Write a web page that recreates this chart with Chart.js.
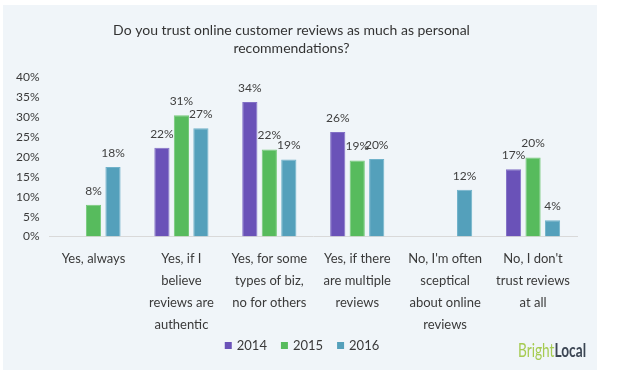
<!DOCTYPE html>
<html>
<head>
<meta charset="utf-8">
<script src="https://cdn.jsdelivr.net/npm/chart.js@4.4.1/dist/chart.umd.min.js"></script>
<style>
  body { margin: 0; background: #fff; }
  #panel { position: absolute; left: 3px; top: 5px; width: 594px; height: 365px; background: #f0f5f9; }
</style>
</head>
<body>
<div id="panel"><canvas id="chart" width="594" height="365"></canvas></div>
<script>
const categories = [
    ["Yes, always"],
    ["Yes, if I", "believe", "reviews are", "authentic"],
    ["Yes, for some", "types of biz,", "no for others"],
    ["Yes, if there", "are multiple", "reviews"],
    ["No, I'm often", "sceptical", "about online", "reviews"],
    ["No, I don't", "trust reviews", "at all"]
];
const values2014 = [null, 22.3, 33.8, 26.3, null, 16.9];
const values2015 = [8, 30.5, 21.9, 19.1, null, 19.9];
const values2016 = [17.5, 27.2, 19.4, 19.5, 11.8, 4.1];
const yearLabels = ["2014", "2015", "2016"];
const yTicks = [0, 5, 10, 15, 20, 25, 30, 35, 40];

const fontName = "'Lato', sans-serif";
Chart.defaults.font.family = fontName;
Chart.defaults.color = "#3a3a3a";

// draws the % above each bar
const barLabels = {
    id: "barLabels",
    afterDatasetsDraw(chart) {
        const ctx = chart.ctx;
        ctx.save();
        ctx.font = "12px " + fontName;
        ctx.fillStyle = "#404040";
        ctx.textAlign = "center";
        ctx.textBaseline = "bottom";
        chart.data.datasets.forEach((ds, i) => {
            chart.getDatasetMeta(i).data.forEach((bar, j) => {
                if (ds.data[j] == null) return;
                ctx.fillText(Math.round(ds.data[j]) + "%", bar.x, bar.y - 8);
            });
        });
        ctx.restore();
    }
};

// legend drawn by hand so it can sit close under the long x labels
const bottomLegend = {
    id: "bottomLegend",
    afterDraw(chart) {
        const ctx = chart.ctx;
        const y = 341;
        ctx.save();
        ctx.font = "13px " + fontName;
        ctx.textBaseline = "middle";
        const items = chart.data.datasets.map(ds => ({ text: ds.label, color: ds.backgroundColor, w: ctx.measureText(ds.label).width }));
        const total = items.reduce((s, it) => s + 7 + 5 + it.w, 0) + 14 * (items.length - 1);
        let x = chart.width / 2 - total / 2 + 2;
        items.forEach(it => {
            ctx.fillStyle = it.color;
            ctx.fillRect(x, y - 4, 7, 7);
            ctx.fillStyle = "#3a3a3a";
            ctx.fillText(it.text, x + 12, y);
            x += 7 + 5 + it.w + 14;
        });
        ctx.restore();
    }
};

// BrightLocal mark, condensed by scaling x
const logo = {
    id: "logo",
    afterDraw(chart) {
        const ctx = chart.ctx;
        ctx.save();
        ctx.font = "19px " + fontName;
        ctx.textBaseline = "alphabetic";
        ctx.translate(515, 352);
        ctx.scale(0.72, 1);
        ctx.fillStyle = "#a6cb52";
        ctx.fillText("Bright", 0, 0);
        const w = ctx.measureText("Bright").width;
        ctx.fillStyle = "#3b4553";
        ctx.font = "bold 19px " + fontName;
        ctx.fillText("Local", w, 0);
        ctx.restore();
    }
};

new Chart(document.getElementById("chart"), {
    type: "bar",
    data: {
        labels: categories,
        datasets: [
            { label: yearLabels[0], data: values2014, backgroundColor: "#6a52b8", borderColor: "#8270c6", borderWidth: 1 },
            { label: yearLabels[1], data: values2015, backgroundColor: "#57bb5d", borderColor: "#75c97a", borderWidth: 1 },
            { label: yearLabels[2], data: values2016, backgroundColor: "#54a0bb", borderColor: "#70b2ca", borderWidth: 1 }
        ]
    },
    options: {
        responsive: false,
        animation: false,
        layout: { padding: { left: 3, right: 20, top: 0, bottom: 23 } },
        datasets: { bar: { barPercentage: 0.78, categoryPercentage: 0.665 } },
        scales: {
            x: {
                grid: { display: false, drawTicks: false },
                border: { color: "#d9d9d9" },
                ticks: { font: { size: 13, lineHeight: 1.7 }, color: "#3a3a3a", maxRotation: 0, autoSkip: false, padding: 11 }
            },
            y: {
                min: 0, max: 40,
                afterBuildTicks(axis) { axis.ticks = yTicks.map(v => ({ value: v })); },
                grid: { display: false, drawTicks: false },
                border: { display: false },
                ticks: { font: { size: 12 }, color: "#3a3a3a", padding: 10, callback: v => v + "%" }
            }
        },
        plugins: {
            title: {
                display: true,
                text: ["Do you trust online customer reviews as much as personal", "recommendations?"],
                font: { size: 14, weight: "normal", lineHeight: 1.3 },
                color: "#333",
                padding: { top: 16, bottom: 20 }
            },
            legend: { display: false },
            tooltip: { enabled: false }
        }
    },
    plugins: [barLabels, bottomLegend, logo]
});
</script>
</body>
</html>
